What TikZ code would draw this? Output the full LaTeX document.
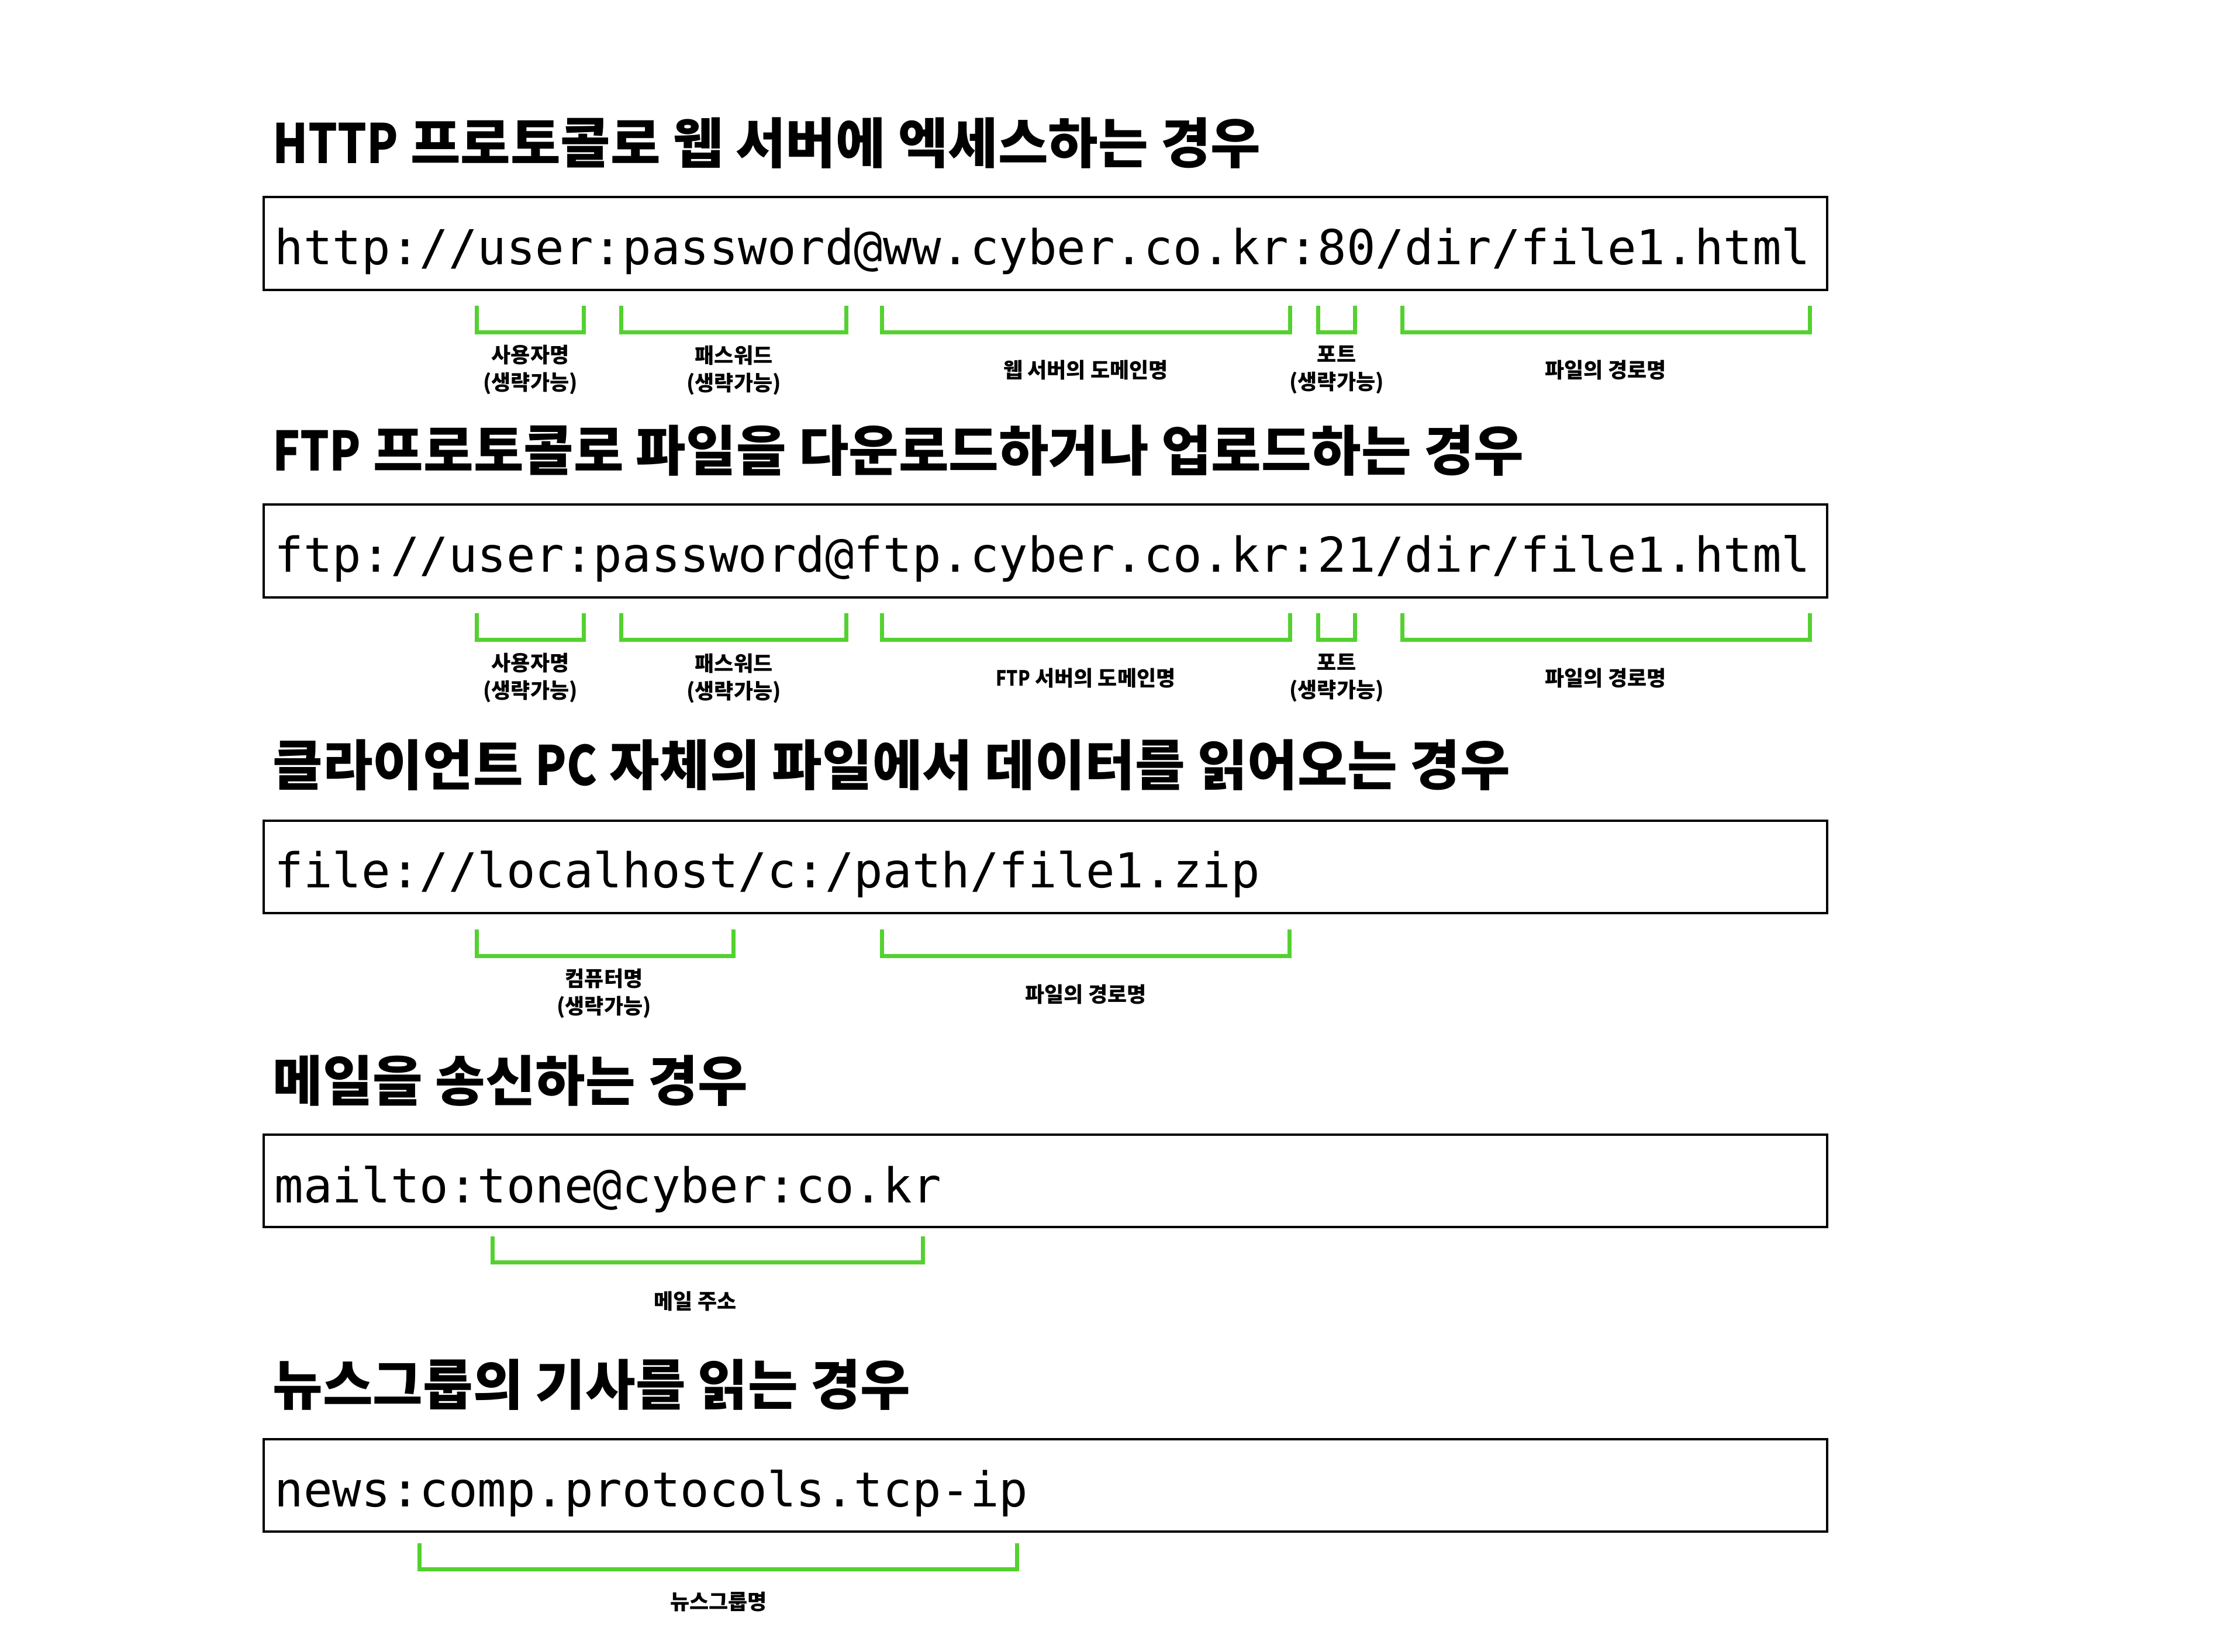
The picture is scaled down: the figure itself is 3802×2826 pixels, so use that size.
\documentclass[tikz,border=0pt]{standalone}
\usepackage{fontspec}
\setmonofont{DejaVu Sans Mono}
\newfontfamily\kr{Noto Sans CJK KR}
\newfontfamily\krlat{Noto Sans CJK KR}[FakeStretch=0.84]
\newcommand{\lat}[1]{{\krlat\bfseries #1}}
\definecolor{brgreen}{RGB}{84,209,48}
\tikzset{
  urlbox/.style={draw=black, line width=1.05pt},
  bracket/.style={draw=brgreen, line width=1.75pt},
  title/.style={font=\kr\bfseries\fontsize{23.25}{28}\selectfont, anchor=base west, inner sep=0pt},
  url/.style={font=\ttfamily\fontsize{20.58}{24}\selectfont, anchor=base west, inner sep=0pt},
  lbl/.style={font=\kr\bfseries\fontsize{9}{11.75}\selectfont, align=center, inner sep=0pt}
}
\begin{document}
\begin{tikzpicture}[x=0.25pt,y=-0.25pt]
\useasboundingbox (0,0) rectangle (3802,2826);
% ---------- 1: HTTP
\node[title] (t1) at (466,280) {\lat{HTTP} 프로토콜로 웹 서버에 엑세스하는 경우};
\draw[urlbox] (451,337) rectangle (3125,496);
\node[url] (u1) at (469,453) {http://user:password@ww.cyber.co.kr:80/dir/file1.html};
\draw[bracket] (815,523) |- (998,568) -- (998,523);
\draw[bracket] (1062,523) |- (1447,568) -- (1447,523);
\draw[bracket] (1508,523) |- (2206,568) -- (2206,523);
\draw[bracket] (2254,523) |- (2317,568) -- (2317,523);
\draw[bracket] (2398,523) |- (3095,568) -- (3095,523);
\node[lbl] (l11) at (907,633) {사용자명\\(생략가능)};
\node[lbl] (l12) at (1255,633) {패스워드\\(생략가능)};
\node[lbl] (l13) at (1857,633) {웹 서버의 도메인명};
\node[lbl] (l14) at (2286,633) {포트\\(생략가능)};
\node[lbl] (l15) at (2746,633) {파일의 경로명};
% ---------- 2: FTP
\node[title] (t2) at (466,805) {\lat{FTP} 프로토콜로 파일을 다운로드하거나 업로드하는 경우};
\draw[urlbox] (451,863) rectangle (3125,1022);
\node[url] (u2) at (469,978) {ftp://user:password@ftp.cyber.co.kr:21/dir/file1.html};
\draw[bracket] (815,1049) |- (998,1094) -- (998,1049);
\draw[bracket] (1062,1049) |- (1447,1094) -- (1447,1049);
\draw[bracket] (1508,1049) |- (2206,1094) -- (2206,1049);
\draw[bracket] (2254,1049) |- (2317,1094) -- (2317,1049);
\draw[bracket] (2398,1049) |- (3095,1094) -- (3095,1049);
\node[lbl] (l21) at (907,1160) {사용자명\\(생략가능)};
\node[lbl] (l22) at (1255,1160) {패스워드\\(생략가능)};
\node[lbl] (l23) at (1857,1160) {\lat{FTP} 서버의 도메인명};
\node[lbl] (l24) at (2286,1160) {포트\\(생략가능)};
\node[lbl] (l25) at (2746,1160) {파일의 경로명};
% ---------- 3: file
\node[title] (t3) at (466,1343) {클라이언트 \lat{PC} 자체의 파일에서 데이터를 읽어오는 경우};
\draw[urlbox] (451,1404) rectangle (3125,1562);
\node[url] (u3) at (469,1518) {file://localhost/c:/path/file1.zip};
\draw[bracket] (815,1590) |- (1254,1635) -- (1254,1590);
\draw[bracket] (1508,1590) |- (2205,1635) -- (2205,1590);
\node[lbl] (l31) at (1033,1699) {컴퓨터명\\(생략가능)};
\node[lbl] (l32) at (1857,1701) {파일의 경로명};
% ---------- 4: mail
\node[title] (t4) at (466,1883) {메일을 송신하는 경우};
\draw[urlbox] (451,1941) rectangle (3125,2099);
\node[url] (u4) at (469,2057) {mailto:tone@cyber:co.kr};
\draw[bracket] (842,2115) |- (1578,2159) -- (1578,2115);
\node[lbl] (l41) at (1189,2226) {메일 주소};
% ---------- 5: news
\node[title] (t5) at (466,2403) {뉴스그룹의 기사를 읽는 경우};
\draw[urlbox] (451,2462) rectangle (3125,2620);
\node[url] (u5) at (469,2577) {news:comp.protocols.tcp-ip};
\draw[bracket] (717,2640) |- (1739,2684) -- (1739,2640);
\node[lbl] (l51) at (1229,2740) {뉴스그룹명};
\end{tikzpicture}
\end{document}
